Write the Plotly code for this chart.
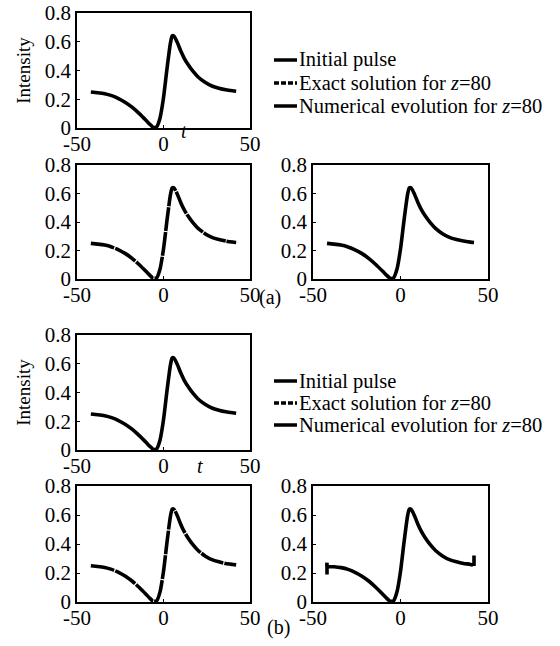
import plotly.graph_objects as go

# ---------------- data ----------------
t_values = [-42, -38, -34, -30, -26, -22, -18, -14, -10, -8, -6, -4, -2, 0, 2, 4, 5, 6, 8, 10,
            12, 14, 17, 20, 24, 28, 32, 36, 40, 42]
initial_pulse = [0.25, 0.245, 0.238, 0.225, 0.205, 0.178, 0.143, 0.10, 0.052, 0.027, 0.006, 0.008,
                 0.07, 0.21, 0.41, 0.59, 0.64, 0.64, 0.595, 0.535, 0.485, 0.445, 0.395, 0.355,
                 0.318, 0.292, 0.277, 0.266, 0.259, 0.256]
exact_z80 = [0.25, 0.245, 0.238, 0.225, 0.205, 0.178, 0.143, 0.10, 0.052, 0.027, 0.006, 0.008,
             0.07, 0.21, 0.41, 0.59, 0.64, 0.64, 0.595, 0.535, 0.485, 0.445, 0.395, 0.355,
             0.318, 0.292, 0.277, 0.266, 0.259, 0.256]
numerical_z80_a = [0.25, 0.245, 0.238, 0.225, 0.205, 0.178, 0.143, 0.10, 0.052, 0.027, 0.006, 0.008,
                   0.07, 0.21, 0.41, 0.59, 0.64, 0.64, 0.595, 0.535, 0.485, 0.445, 0.395, 0.355,
                   0.318, 0.292, 0.277, 0.266, 0.259, 0.256]
t_num_b = [-42, -42, -42, -38, -34, -30, -26, -22, -18, -14, -10, -8, -6, -4, -2, 0, 2, 4, 5, 6, 8, 10,
           12, 14, 17, 20, 24, 28, 32, 36, 40, 42, 42, 42]
numerical_z80_b = [0.19, 0.27, 0.245, 0.243, 0.237, 0.225, 0.205, 0.178, 0.143, 0.10, 0.052, 0.027,
                   0.006, 0.008, 0.07, 0.21, 0.41, 0.59, 0.64, 0.64, 0.595, 0.535, 0.485, 0.445,
                   0.395, 0.355, 0.318, 0.292, 0.277, 0.266, 0.259, 0.252, 0.25, 0.32]

x_ticks = [-50, 0, 50]
x_tick_labels = ["-50", "0", "50"]
y_ticks = [0, 0.2, 0.4, 0.6, 0.8]
y_tick_labels = ["0", "0.2", "0.4", "0.6", "0.8"]
legend_labels = ["Initial pulse", "Exact solution for <i>z</i>=80", "Numerical evolution for <i>z</i>=80"]
legend_dashes = ["solid", "5px,2px", "solid"]

# ---------------- layout helpers ----------------
W, H = 560, 646
def px(x):
    return x / W
def py(y):
    return 1 - y / H

FONT = "Liberation Serif, DejaVu Serif, Times New Roman, serif"
# panel frames in pixels: (left, top, right, bottom)
panels = [
    (77, 13, 250, 128),   # (a) initial
    (77, 165, 250, 279),  # (a) exact
    (313, 165, 488, 279), # (a) numerical
    (77, 335, 250, 450),  # (b) initial
    (77, 486, 250, 602),  # (b) exact
    (313, 486, 488, 602), # (b) numerical
]

fig = go.Figure()

series = [
    (t_values, initial_pulse, legend_labels[0], "solid"),
    (t_values, exact_z80, legend_labels[1], "24px,1px"),
    (t_values, numerical_z80_a, legend_labels[2], "solid"),
    (t_values, initial_pulse, legend_labels[0], "solid"),
    (t_values, exact_z80, legend_labels[1], "24px,1px"),
    (t_num_b, numerical_z80_b, legend_labels[2], "solid"),
]

layout = dict(
    width=W, height=H,
    margin=dict(l=0, r=0, t=0, b=0, autoexpand=False),
    paper_bgcolor="white", plot_bgcolor="white",
    font=dict(family=FONT, size=20, color="black"),
    showlegend=False,
)

for i, ((x, y, name, dash), (l, t, r, b)) in enumerate(zip(series, panels)):
    n = "" if i == 0 else str(i + 1)
    fig.add_trace(go.Scatter(
        x=x, y=y, mode="lines", name=name.replace("<i>", "").replace("</i>", ""),
        line=dict(color="black", width=3.6, dash=dash, shape="spline", smoothing=0.6),
        xaxis="x" + n, yaxis="y" + n,
    ))
    common = dict(showline=True, linecolor="black", linewidth=1.8, mirror=True,
                  showgrid=False, zeroline=False, ticks="inside", ticklen=3,
                  tickcolor="black", automargin=False,
                  tickfont=dict(family=FONT, size=21, color="black"))
    layout["xaxis" + n] = dict(domain=[px(l), px(r)], range=[-50, 50], anchor="y" + n,
                               tickvals=x_ticks, ticktext=x_tick_labels,
                               ticklabelstandoff=-4, **common)
    ydict = dict(domain=[py(b), py(t)], range=[0, 0.8], anchor="x" + n,
                 tickvals=y_ticks, ticktext=y_tick_labels, **common)
    if i in (0, 3):
        ydict["title"] = dict(text="Intensity", standoff=9,
                              font=dict(family=FONT, size=19, color="black"))
    layout["yaxis" + n] = ydict

fig.update_layout(**layout)

# legend keys + labels for (a) and (b), drawn in paper space
legend_rows = [[60, 83, 106], [381, 403, 425]]
for rows in legend_rows:
    for yy, label, dsh in zip(rows, legend_labels, legend_dashes):
        fig.add_shape(type="line", xref="paper", yref="paper",
                      x0=px(274), x1=px(297), y0=py(yy), y1=py(yy),
                      line=dict(color="black", width=3.5, dash=dsh))
        fig.add_annotation(xref="paper", yref="paper", showarrow=False,
                           x=px(297), y=py(yy), xanchor="left", yanchor="middle",
                           text=label, font=dict(family=FONT, size=20.5, color="black"))

annots = [
    dict(text="<i>t</i>", x=px(184), y=py(131)),
    dict(text="<i>t</i>", x=px(200), y=py(466)),
    dict(text="(a)", x=px(270), y=py(297)),
    dict(text="(b)", x=px(278), y=py(627)),
]
for a in annots:
    fig.add_annotation(xref="paper", yref="paper", showarrow=False,
                       xanchor="center", yanchor="middle",
                       font=dict(family=FONT, size=20, color="black"), **a)

fig.write_html("out.html", post_script="document.body.style.margin='0px';",
               config={"displayModeBar": False})
